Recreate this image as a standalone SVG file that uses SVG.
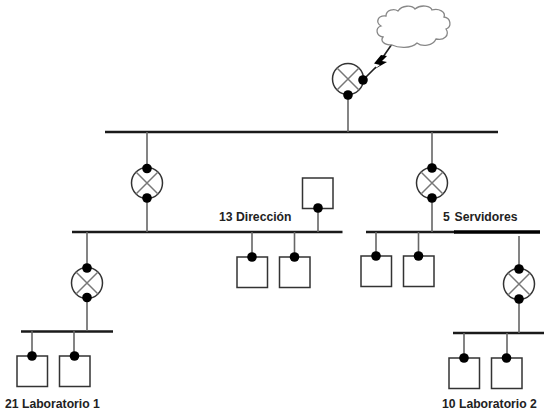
<svg xmlns="http://www.w3.org/2000/svg" width="547" height="417" viewBox="0 0 547 417">
<style>
.bus{stroke:#1a1a1a;stroke-width:2.5;fill:none}
.con{stroke:#666;stroke-width:1.6;fill:none}
.box{fill:#fff;stroke:#333;stroke-width:1.5}
.rt{fill:#fff;stroke:#333;stroke-width:1.5}
.x{stroke:#777;stroke-width:1.5;fill:none}
.dot{fill:#000}
text{font-family:"Liberation Sans",Arial,sans-serif;font-weight:bold;font-size:12.2px;fill:#222}
</style>
<defs>
<g id="router"><circle class="rt" r="15.5"/><path class="x" d="M-11-11L11 11M-11 11L11-11"/></g>
<g id="term"><rect class="box" x="-15" y="0" width="30.5" height="30.5"/><circle class="dot" cx="0" cy="0" r="4.8"/></g>
</defs>
<g id="connectors">
<path class="bus" d="M105 132H498"/>
<path class="bus" d="M72 232H342.500"/>
<path class="bus" d="M366 232H455"/>
<path class="bus" d="M454 232H540" style="stroke-width:3.500;stroke:#000"/>
<path class="bus" d="M21 331.500H113"/>
<path class="bus" d="M453 333H544"/>
<path class="con" d="M348 95V132"/>
<path class="con" d="M147 132V168M147 198V232"/>
<path class="con" d="M432 132V168M432 198V232"/>
<path class="con" d="M87 232V268M87 297V331"/>
<path class="con" d="M519 236V269M519 299V333"/>
<path class="con" d="M318 208V232M252 232V257M294.500 232V257M376 232V256M418.500 232V256"/>
<path class="con" d="M32 331V356M74 331V356M464 333V358M507 333V358"/>
<path d="M363 80L376 67M383 57L392 44" stroke="#222" stroke-width="1.600" fill="none"/>
<path d="M381 55L387 56L382 61L387 62L373 70L380 65L374 63.500Z" fill="#000"/>
</g>
<g id="cloud"><path d="M392 45C384 45 380 41 383 37C376 36 375 28 381 26C375 22 378 15 386 16C386 10 394 8 398 11C402 5 412 5 415 9C421 4 431 6 432 10C439 8 446 12 444 17C451 18 452 27 446 29C450 35 444 41 436 39C433 46 422 47 417 43C411 49 398 48 392 45Z" fill="#fff" stroke="#888" stroke-width="1.300"/></g>
<g id="router-top"><use href="#router" x="348" y="79"/><circle class="dot" cx="348" cy="95" r="4.800"/><circle class="dot" cx="363" cy="80" r="4.800"/></g>
<g id="router-left"><use href="#router" x="147" y="183"/><circle class="dot" cx="147" cy="168.500" r="4.800"/><circle class="dot" cx="147" cy="198" r="4.800"/></g>
<g id="router-right"><use href="#router" x="432" y="183"/><circle class="dot" cx="432" cy="168" r="4.800"/><circle class="dot" cx="432" cy="198" r="4.800"/></g>
<g id="router-lab1"><use href="#router" x="87" y="283"/><circle class="dot" cx="87" cy="268" r="4.800"/><circle class="dot" cx="87" cy="297.500" r="4.800"/></g>
<g id="router-lab2"><use href="#router" x="519" y="284"/><circle class="dot" cx="519" cy="269" r="4.800"/><circle class="dot" cx="519" cy="299" r="4.800"/></g>
<g id="dir-top"><rect class="box" x="302.500" y="178" width="30.500" height="30.500"/><circle class="dot" cx="318" cy="208" r="4.800"/></g>
<g id="dir-1"><use href="#term" x="252" y="257"/></g>
<g id="dir-2"><use href="#term" x="294.500" y="257"/></g>
<g id="srv-1"><use href="#term" x="376" y="256"/></g>
<g id="srv-2"><use href="#term" x="418.500" y="256"/></g>
<g id="lab1-1"><use href="#term" x="32" y="356"/></g>
<g id="lab1-2"><use href="#term" x="74.500" y="356"/></g>
<g id="lab2-1"><use href="#term" x="464" y="358"/></g>
<g id="lab2-2"><use href="#term" x="506.500" y="358"/></g>
<g id="labels">
<text x="219" y="220.500">13 Dirección</text>
<text x="443" y="220.500">5<tspan x="454.500">Servidores</tspan></text>
<text x="5" y="408">21 Laboratorio 1</text>
<text x="442" y="408">10 Laboratorio 2</text>
</g>
</svg>
